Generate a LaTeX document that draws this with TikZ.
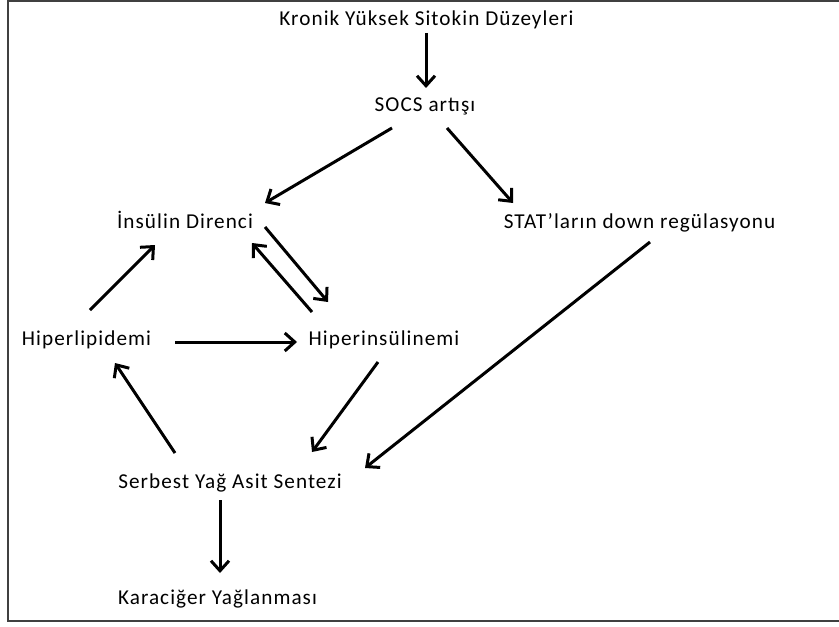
\documentclass[tikz,border=0pt]{standalone}
\usepackage{fontspec}
\setmainfont{Carlito}[LetterSpace=5]
\usetikzlibrary{arrows.meta,calc}

\begin{document}
\begin{tikzpicture}[x=0.5pt,y=-0.5pt,
        lbl/.style={anchor=base, inner sep=0pt, font=\fontsize{10.6}{12}\selectfont},
        arr/.style={line width=1.5pt, -{Straight Barb[length=5pt,width=9pt]}}]
        \useasboundingbox (0,0) rectangle (839,626);
        \draw[line width=1pt, black!75] (839,1) -- (8,1) -- (8,621) -- (839,621);
        \node[lbl] (krn) at (426.5,26) {Kronik Yüksek Sitokin Düzeyleri};
        \node[lbl] (socs) at (425,112) {SOCS artışı};
        \node[lbl] (ins) at (185,228) {İnsülin Direnci};
        \node[lbl] (stat) at (639.5,228) {STAT’ların down regülasyonu};
        \node[lbl] (hlip) at (86.5,345) {Hiperlipidemi};
        \node[lbl] (hins) at (384,345) {Hiperinsülinemi};
        \node[lbl] (syas) at (230,488) {Serbest Yağ Asit Sentezi};
        \node[lbl] (kyag) at (217.5,604) {Karaciğer Yağlanması};
        \draw[arr] ($(krn.base)+(-0.5,7)$) -- ($(socs.base)+(1,-24)$);
        \draw[arr] ($(socs.base)+(-33,16)$) -- ($(ins.base)+(80,-25)$);
        \draw[arr] ($(socs.base)+(22,16)$) -- ($(stat.base)+(-126.5,-25)$);
        \draw[arr] ($(ins.base)+(80,-1)$) -- ($(hins.base)+(-56,-43)$);
        \draw[arr] ($(hins.base)+(-72,-33)$) -- ($(ins.base)+(67,15)$);
        \draw[arr] ($(hlip.base)+(3.5,-35)$) -- ($(ins.base)+(-30,17)$);
        \draw[arr] ($(hlip.base)+(88.5,-3)$) -- ($(hins.base)+(-87,-3)$);
        \draw[arr] ($(syas.base)+(-55,-35)$) -- ($(hlip.base)+(28.5,18)$);
        \draw[arr] ($(hins.base)+(-6,17)$) -- ($(syas.base)+(82,-36)$);
        \draw[arr] ($(stat.base)+(10.5,14)$) -- ($(syas.base)+(135,-20)$);
        \draw[arr] ($(syas.base)+(-10,12)$) -- ($(kyag.base)+(2.5,-31)$);
\end{tikzpicture}
\end{document}
